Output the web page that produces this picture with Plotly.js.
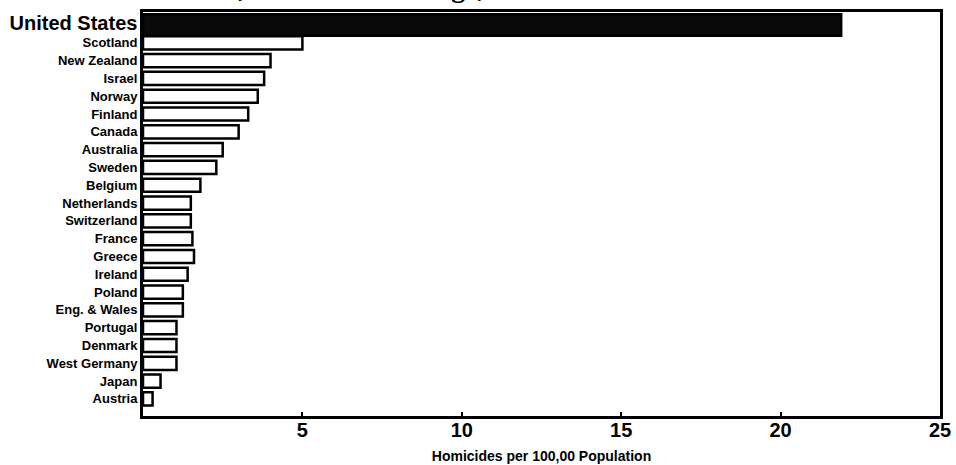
<!DOCTYPE html>
<html>
<head>
<meta charset="utf-8">
<script src="https://cdn.plot.ly/plotly-3.0.1.min.js"></script>
<style>html,body{margin:0;padding:0;background:#fff;}#chart{width:956px;height:465px;}</style>
</head>
<body>
<div id="chart"></div>
<script>
// Data
const countries = ["United States","Scotland","New Zealand","Israel","Norway","Finland","Canada","Australia","Sweden","Belgium","Netherlands","Switzerland","France","Greece","Ireland","Poland","Eng. & Wales","Portugal","Denmark","West Germany","Japan","Austria"];
const rates = [21.9, 5.0, 4.0, 3.8, 3.6, 3.3, 3.0, 2.5, 2.3, 1.8, 1.5, 1.5, 1.55, 1.6, 1.4, 1.25, 1.25, 1.05, 1.05, 1.05, 0.55, 0.3];
const xTicks = [5, 10, 15, 20, 25];
const xTitle = "Homicides per 100,00 Population";
const topTitle = "Males, 15–24 Years of Age, 1986–1987";

const highlight = "United States";
const widths = countries.map(c => c === highlight ? 1.2 : 0.74);
const fills = countries.map(c => c === highlight ? "#0a0a0a" : "#ffffff");
const tickText = countries.map(c => c === highlight
  ? '<span style="font-size:20px">' + c + '</span>'
  : c);

const trace = {
  type: "bar",
  orientation: "h",
  y: countries,
  x: rates,
  width: widths,
  marker: {color: fills, line: {color: "#000", width: 2.5}},
  hoverinfo: "x+y"
};

const layout = {
  width: 956, height: 465,
  margin: {l: 143, r: 16, t: 12, b: 49},
  paper_bgcolor: "#fff", plot_bgcolor: "#fff",
  showlegend: false,
  font: {family: "Liberation Sans, Arial, sans-serif", color: "#000"},
  xaxis: {
    range: [0, 25],
    tickvals: xTicks,
    ticktext: xTicks.map(String),
    ticks: "inside", ticklen: 4, tickwidth: 2, tickcolor: "#000",
    showline: true, linecolor: "#000", linewidth: 3, mirror: true,
    showgrid: false, zeroline: false,
    tickfont: {family: "Liberation Sans, Arial, sans-serif", size: 20, weight: "bold", color: "#000"},
    ticklabelstandoff: -6,
    title: {text: xTitle, font: {family: "Liberation Sans, Arial, sans-serif", size: 14, weight: "bold", color: "#000"}, standoff: 12}
  },
  yaxis: {
    type: "category",
    categoryorder: "array", categoryarray: countries,
    range: [21.96, -0.73],
    tickvals: countries, ticktext: tickText,
    ticks: "", showline: true, linecolor: "#000", linewidth: 3, mirror: true,
    showgrid: false, zeroline: false,
    tickfont: {family: "Liberation Sans, Arial, sans-serif", size: 13, weight: "bold", color: "#000"},
    ticklabelstandoff: 0
  },
  annotations: [{
    text: topTitle, xref: "paper", yref: "paper", x: 0.028, y: 1.018,
    xanchor: "left", yanchor: "bottom", showarrow: false,
    font: {family: "Liberation Serif, serif", size: 28, weight: "bold", color: "#000"}
  }]
};

Plotly.newPlot("chart", [trace], layout, {displayModeBar: false, staticPlot: true});
</script>
</body>
</html>
